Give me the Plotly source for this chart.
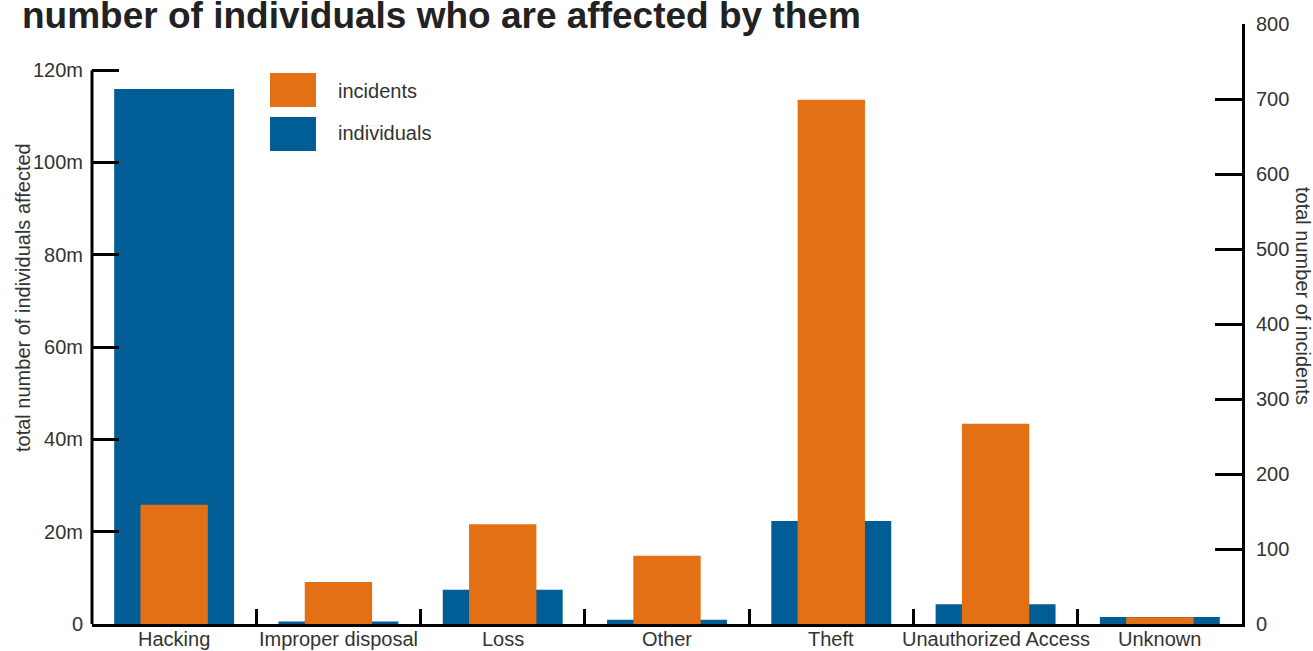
import plotly.graph_objects as go

categories = ["Hacking", "Improper disposal", "Loss", "Other", "Theft",
              "Unauthorized Access", "Unknown"]
individuals = [115.9e6, 0.55e6, 7.4e6, 0.9e6, 22.3e6, 4.3e6, 1.5e6]
incidents = [159, 56, 133, 91, 699, 267, 9]

left_tickvals = [0, 20e6, 40e6, 60e6, 80e6, 100e6, 120e6]
left_ticktext = ["0", "20m", "40m", "60m", "80m", "100m", "120m"]
right_tickvals = [0, 100, 200, 300, 400, 500, 600, 700, 800]

title_text = "number of individuals who are affected by them"
left_title = "total number of individuals affected"
right_title = "total number of incidents"

ORANGE = "#E47015"
BLUE = "#005D96"
FONT = "Liberation Sans, Arial, sans-serif"
TXT = "#333333"

W, H = 1313, 651
L, R, T, B = 92, 71, 24, 27
PW, PH = W - L - R, H - T - B

def px_x(px):
    return (px - L) / PW

def px_y(py):
    return (H - B - py) / PH

fig = go.Figure()
fig.add_trace(go.Bar(x=categories, y=individuals, name="individuals",
                     marker=dict(color=BLUE, line=dict(width=0)),
                     width=0.73, yaxis="y"))
fig.add_trace(go.Bar(x=categories, y=incidents, name="incidents",
                     marker=dict(color=ORANGE, line=dict(width=0)),
                     width=0.41, yaxis="y2"))

fig.update_layout(
    width=W, height=H,
    margin=dict(l=L, r=R, t=T, b=B, pad=0),
    paper_bgcolor="white", plot_bgcolor="white",
    barmode="overlay", showlegend=False,
    font=dict(family=FONT, size=20, color=TXT),
    xaxis=dict(type="category", showgrid=False, zeroline=False,
               showline=True, linecolor="black", linewidth=3,
               ticks="inside", tickson="boundaries", ticklen=15, tickwidth=3,
               tickcolor="black", showticklabels=False, automargin=False),
    yaxis=dict(range=[0, 130e6], showgrid=False, zeroline=False,
               showline=False, ticks="inside", ticklen=27, tickwidth=3,
               tickcolor="black", tickvals=left_tickvals,
               ticktext=left_ticktext, tickfont=dict(size=20, color=TXT),
               automargin=False, ticklabelstandoff=8),
    yaxis2=dict(range=[0, 800], overlaying="y", side="right",
                showgrid=False, zeroline=False, showline=True,
                linecolor="black", linewidth=3, ticks="inside", ticklen=27,
                tickwidth=3, tickcolor="black", tickvals=right_tickvals,
                tickfont=dict(size=20, color=TXT), automargin=False,
                ticklabelstandoff=7),
)

# category labels under the axis
for c in categories:
    fig.add_annotation(text=c, xref="x", yref="paper", x=c, y=px_y(639),
                       xanchor="center", yanchor="middle", showarrow=False,
                       font=dict(size=20, color=TXT, family=FONT))

# left axis line (only up to the 120m tick)
fig.add_shape(type="line", xref="paper", yref="y", x0=0, x1=0,
              y0=0, y1=120e6, line=dict(color="black", width=3))

# custom legend
fig.add_shape(type="rect", xref="paper", yref="paper",
              x0=px_x(270), x1=px_x(316), y0=px_y(107), y1=px_y(73),
              fillcolor=ORANGE, line=dict(width=0))
fig.add_shape(type="rect", xref="paper", yref="paper",
              x0=px_x(270), x1=px_x(316), y0=px_y(151), y1=px_y(117),
              fillcolor=BLUE, line=dict(width=0))
fig.add_annotation(text="incidents", xref="paper", yref="paper",
                   x=px_x(336), y=px_y(91), xanchor="left", yanchor="middle",
                   showarrow=False, font=dict(size=20, color=TXT, family=FONT))
fig.add_annotation(text="individuals", xref="paper", yref="paper",
                   x=px_x(336), y=px_y(133), xanchor="left", yanchor="middle",
                   showarrow=False, font=dict(size=20, color=TXT, family=FONT))

# title
fig.add_annotation(text="<b>" + title_text + "</b>", xref="paper", yref="paper",
                   x=px_x(20), y=px_y(15), xanchor="left", yanchor="middle",
                   showarrow=False, font=dict(size=37, color="#222222", family=FONT))

# axis titles
fig.add_annotation(text=left_title, xref="paper", yref="paper",
                   x=px_x(23), y=px_y(298), xanchor="center", yanchor="middle",
                   textangle=-90, showarrow=False,
                   font=dict(size=20, color=TXT, family=FONT))
fig.add_annotation(text=right_title, xref="paper", yref="paper",
                   x=px_x(1303), y=px_y(296), xanchor="center", yanchor="middle",
                   textangle=90, showarrow=False,
                   font=dict(size=20, color=TXT, family=FONT))

fig.write_html("out.html")
